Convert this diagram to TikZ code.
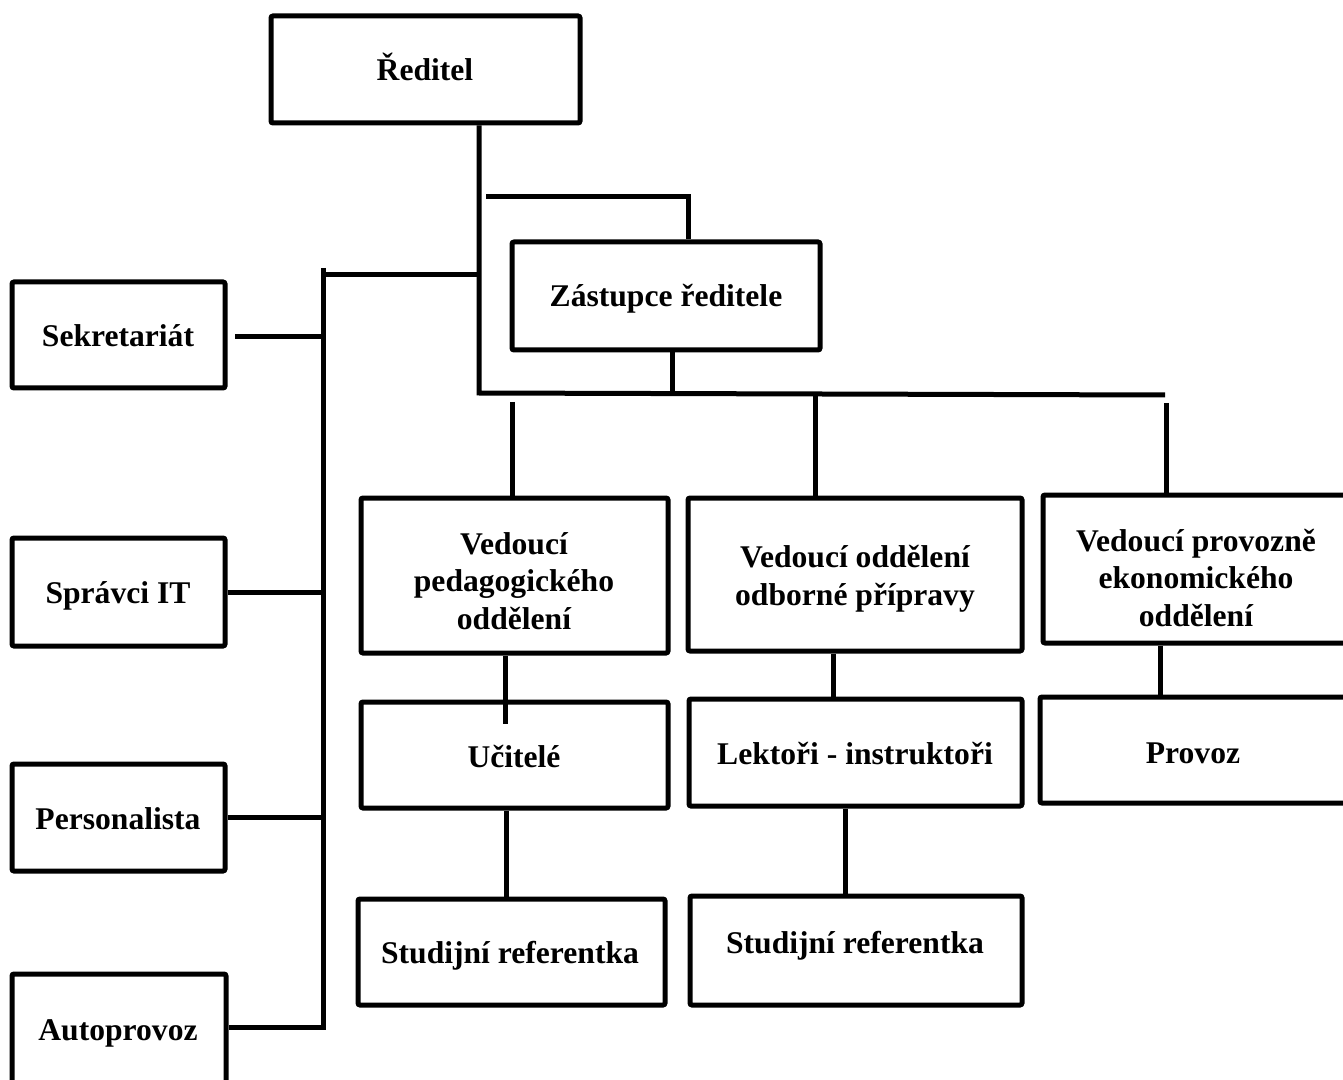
\documentclass[tikz,border=0pt]{standalone}
\usepackage{fontspec}
\setmainfont{Liberation Serif}
\begin{document}
\begin{tikzpicture}[x=0.5pt,y=-0.5pt,
  box/.style={draw, line width=2.5pt, rounded corners=1pt, inner sep=0pt, fill=white},
  lbl/.style={font=\bfseries\fontsize{15.8}{18.75}\selectfont, align=center, anchor=base, inner sep=0pt},
  conn/.style={line width=2.5pt}]
\useasboundingbox (0,0) rectangle (1343,1080);
\clip (0,0) rectangle (1343,1080);

% boxes
\node[box, minimum width=154.5pt, minimum height=53.5pt] (red) at (425.5,69.5) {};
\node[box, minimum width=154pt, minimum height=54pt] (zast) at (666,296) {};
\node[box, minimum width=106.5pt, minimum height=53pt] (sek) at (118.5,335) {};
\node[box, minimum width=106.5pt, minimum height=54pt] (spr) at (118.5,592) {};
\node[box, minimum width=106.5pt, minimum height=53.5pt] (pers) at (118.5,817.5) {};
\node[box, minimum width=107pt, minimum height=54.5pt] (auto) at (119,1028.5) {};
\node[box, minimum width=153.5pt, minimum height=77.5pt] (ped) at (514.5,575.5) {};
\node[box, minimum width=167pt, minimum height=76.5pt] (odb) at (855,574.5) {};
\node[box, minimum width=153.5pt, minimum height=74pt] (prov) at (1196.5,569) {};
\node[box, minimum width=153.5pt, minimum height=53pt] (uc) at (514.5,755) {};
\node[box, minimum width=166.5pt, minimum height=53.5pt] (lek) at (855.5,752.5) {};
\node[box, minimum width=155pt, minimum height=53pt] (provoz) at (1195,750) {};
\node[box, minimum width=153.5pt, minimum height=53pt] (sr1) at (511.5,952) {};
\node[box, minimum width=166pt, minimum height=54.5pt] (sr2) at (856,950.5) {};

% texts (multi-line: base anchor = last line's baseline)
\node[lbl] (t-red) at (425,81) {Ředitel};
\node[lbl] (t-zast) at (666,307) {Zástupce ředitele};
\node[lbl] (t-sek) at (118,347) {Sekretariát};
\node[lbl] (t-spr) at (118,603) {Správci IT};
\node[lbl] (t-pers) at (118,829) {Personalista};
\node[lbl] (t-auto) at (118,1040) {Autoprovoz};
\node[lbl] (t-ped) at (514,629) {Vedoucí\\pedagogického\\oddělení};
\node[lbl] (t-odb) at (855,605) {Vedoucí oddělení\\odborné přípravy};
\node[lbl] (t-prov) at (1196,626) {Vedoucí provozně\\ekonomického\\oddělení};
\node[lbl] (t-uc) at (514,767) {Učitelé};
\node[lbl] (t-lek) at (855,764) {Lektoři - instruktoři};
\node[lbl] (t-provoz) at (1193,763) {Provoz};
\node[lbl] (t-sr1) at (510,963) {Studijní referentka};
\node[lbl] (t-sr2) at (855,953) {Studijní referentka};

% coordinates for connectors
\coordinate (busL) at (479,393);
\coordinate (busR) at (1165,395);
\coordinate (zL) at (486,197);
\coordinate (zR) at (688,197);
\coordinate (hL) at (323,275);
\coordinate (hR) at (479,275);
\coordinate (vT) at (323,268);
\coordinate (vB) at (323,1027);
\coordinate (sekR) at (235,337);
\coordinate (zJ) at (672,393);
\coordinate (d1) at (512,402);
\coordinate (d2) at (815,394);
\coordinate (d3) at (1166,403);
\coordinate (ucIn) at (505,724);
\coordinate (x1) at (506,0);
\coordinate (x2) at (833,0);
\coordinate (x3) at (845,0);
\coordinate (x4) at (1160,0);

% connectors
\draw[conn] (red.south -| busL) -- (busL) -- (busR);
\draw[conn] (zL) -- (zR) -- (zast.north -| zR);
\draw[conn] (hR) -- (hL);
\draw[conn] (vT) -- (vB) -- (auto.east |- vB);
\draw[conn] (sekR) -- (sekR -| vB);
\draw[conn] (spr.east) -- (spr.east -| vB);
\draw[conn] (pers.east) -- (pers.east -| vB);
\draw[conn] (zast.south -| zJ) -- (zJ);
\draw[conn] (d1) -- (ped.north -| d1);
\draw[conn] (d2) -- (odb.north -| d2);
\draw[conn] (d3) -- (prov.north -| d3);
\draw[conn] (ped.south -| ucIn) -- (ucIn);
\draw[conn] (uc.south -| x1) -- (sr1.north -| x1);
\draw[conn] (odb.south -| x2) -- (lek.north -| x2);
\draw[conn] (lek.south -| x3) -- (sr2.north -| x3);
\draw[conn] (prov.south -| x4) -- (provoz.north -| x4);
\end{tikzpicture}
\end{document}
